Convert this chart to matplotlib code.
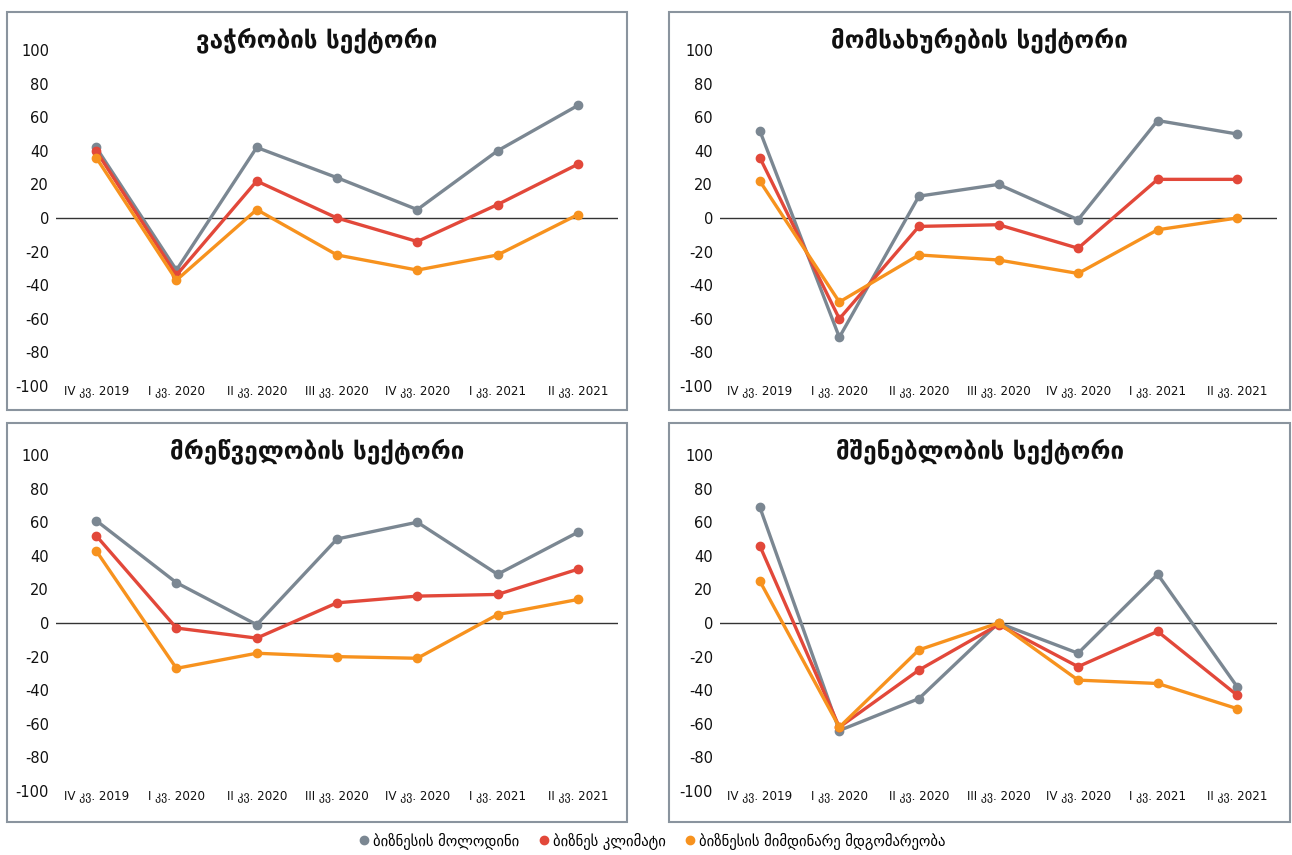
import matplotlib
matplotlib.use("Agg")
import matplotlib.pyplot as plt
from matplotlib.patches import Rectangle
from matplotlib.lines import Line2D

plt.rcParams['font.family'] = ['DejaVu Sans']
plt.rcParams['axes.unicode_minus'] = False

W, H = 1292, 855

quarters = ["IV კვ. 2019", "I კვ. 2020", "II კვ. 2020", "III კვ. 2020",
            "IV კვ. 2020", "I კვ. 2021", "II კვ. 2021"]
series_names = ["ბიზნესის მოლოდინი", "ბიზნეს კლიმატი", "ბიზნესის მიმდინარე მდგომარეობა"]
colors = ["#7b8792", "#e2483a", "#f7921e"]

# trade
trade_expect = [42, -31, 42, 24, 5, 40, 67]
trade_climate = [40, -34, 22, 0, -14, 8, 32]
trade_current = [36, -37, 5, -22, -31, -22, 2]
# services
serv_expect = [52, -71, 13, 20, -1, 58, 50]
serv_climate = [36, -60, -5, -4, -18, 23, 23]
serv_current = [22, -50, -22, -25, -33, -7, 0]
# industry
ind_expect = [61, 24, -1, 50, 60, 29, 54]
ind_climate = [52, -3, -9, 12, 16, 17, 32]
ind_current = [43, -27, -18, -20, -21, 5, 14]
# construction
cons_expect = [69, -64, -45, 0, -18, 29, -38]
cons_climate = [46, -62, -28, -1, -26, -5, -43]
cons_current = [25, -62, -16, 0, -34, -36, -51]

panels = [
    ("ვაჭრობის სექტორი", [trade_expect, trade_climate, trade_current]),
    ("მომსახურების სექტორი", [serv_expect, serv_climate, serv_current]),
    ("მრეწველობის სექტორი", [ind_expect, ind_climate, ind_current]),
    ("მშენებლობის სექტორი", [cons_expect, cons_climate, cons_current]),
]

# pixel layout: (box x0, box y0, box x1, box y1, axes x0, axes x1, y of 100, y of -100)
layout = [
    (7, 12, 627, 410, 56, 618, 50, 386),
    (669, 12, 1290, 410, 720, 1277, 50, 386),
    (7, 423, 627, 822, 56, 618, 455, 791),
    (669, 423, 1290, 822, 720, 1277, 455, 791),
]

fig = plt.figure(figsize=(W / 100, H / 100), dpi=100)

for (title, data), (bx0, by0, bx1, by1, ax0, ax1, yt, yb) in zip(panels, layout):
    fig.add_artist(Rectangle((bx0 / W, 1 - by1 / H), (bx1 - bx0) / W, (by1 - by0) / H,
                             transform=fig.transFigure, fill=False,
                             edgecolor="#8a949e", linewidth=1.5))
    ax = fig.add_axes([ax0 / W, 1 - yb / H, (ax1 - ax0) / W, (yb - yt) / H])
    ax.set_facecolor("none")
    x = range(len(quarters))
    for vals, c in zip(data, colors):
        ax.plot(x, vals, color=c, linewidth=2.4, marker="o", markersize=6, zorder=3)
    ax.axhline(0, color="#333333", linewidth=1, zorder=2)
    ax.set_xlim(-0.5, len(quarters) - 0.5)
    ax.set_ylim(-100, 100)
    ax.set_yticks(range(-100, 101, 20))
    ax.set_xticks(list(x))
    ax.set_xticklabels(quarters)
    for s in ax.spines.values():
        s.set_visible(False)
    ax.tick_params(axis="both", length=0, labelsize=10.5, colors="#111111")
    ax.tick_params(axis="x", pad=-1, labelsize=8.6)
    ax.tick_params(axis="y", pad=5)
    fig.text((bx0 + bx1) / 2 / W, 1 - (by0 + 28) / H, title, ha="center", va="center",
             fontsize=17.5, fontweight="bold", color="#111111")

handles = [Line2D([], [], linestyle="none", marker="o", markersize=6, color=c) for c in colors]
fig.legend(handles, series_names, loc="center", bbox_to_anchor=(651 / W, 1 - 841 / H),
           ncol=3, frameon=False, fontsize=10.5, handletextpad=0.1, columnspacing=1.2,
           handlelength=1.0)

fig.savefig("out.png", dpi=100)
